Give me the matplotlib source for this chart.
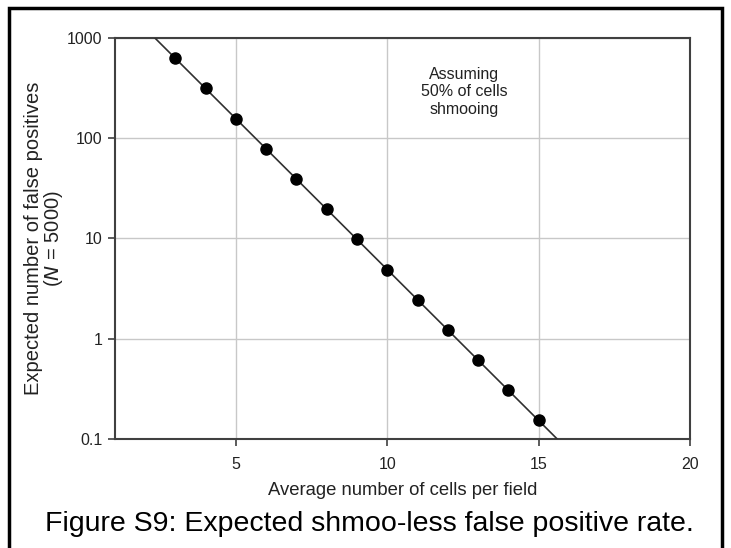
import matplotlib.pyplot as plt
import matplotlib as mpl
from matplotlib.patches import Rectangle

mpl.rcParams['font.family'] = ['Liberation Sans', 'DejaVu Sans']

# Data
cells_per_field = [3, 4, 5, 6, 7, 8, 9, 10, 11, 12, 13, 14, 15]
false_positives = [625, 312.5, 156.3, 78.1, 39.1, 19.5, 9.77, 4.88, 2.44, 1.22, 0.61, 0.305, 0.153]
fit_x = [2.32, 15.61]
fit_y = [1000, 0.1]

x_ticks = [5, 10, 15, 20]
y_ticks = [0.1, 1, 10, 100, 1000]
y_tick_labels = ['0.1', '1', '10', '100', '1000']

fig = plt.figure(figsize=(7.31, 5.48), dpi=100)
ax = fig.add_axes([0.157, 0.199, 0.787, 0.732])

spine_col = '#404040'
ax.set_yscale('log')
ax.set_xlim(1, 20)
ax.set_ylim(0.1, 1000)

ax.grid(True, which='major', color='#c8c8c8', linewidth=1.0)
ax.set_axisbelow(True)

ax.plot(fit_x, fit_y, color='#303030', linewidth=1.2, zorder=3)
ax.plot(cells_per_field, false_positives, 'o', color='black', markersize=8, zorder=4)

ax.set_xticks(x_ticks)
ax.set_xticklabels([str(t) for t in x_ticks])
ax.set_yticks(y_ticks)
ax.set_yticklabels(y_tick_labels)
ax.yaxis.set_minor_locator(mpl.ticker.NullLocator())
ax.tick_params(axis='both', direction='out', length=5, width=1.2, color=spine_col,
               labelsize=11.5, labelcolor='#222222', pad=4)
ax.tick_params(axis='x', pad=8)
for s in ax.spines.values():
    s.set_color(spine_col)
    s.set_linewidth(1.5)

ax.set_xlabel('Average number of cells per field', fontsize=13.3, color='#222222', labelpad=7)
ax.set_ylabel('Expected number of false positives\n($N$ = 5000)', fontsize=14.5,
              color='#222222', labelpad=1, linespacing=0.95)

ax.text(12.55, 290, 'Assuming\n50% of cells\nshmooing', ha='center', va='center',
        fontsize=11.5, color='#222222', linespacing=1.2)

fig.text(0.062, 0.043, 'Figure S9: Expected shmoo-less false positive rate.',
         fontsize=20.5, color='black', ha='left', va='center')

# outer frame around the figure
fig.patches.append(Rectangle((0.0125, -0.1), 0.975, 1.085, transform=fig.transFigure,
                             fill=False, edgecolor='black', linewidth=2.5))

plt.savefig('out.png', dpi=100)
